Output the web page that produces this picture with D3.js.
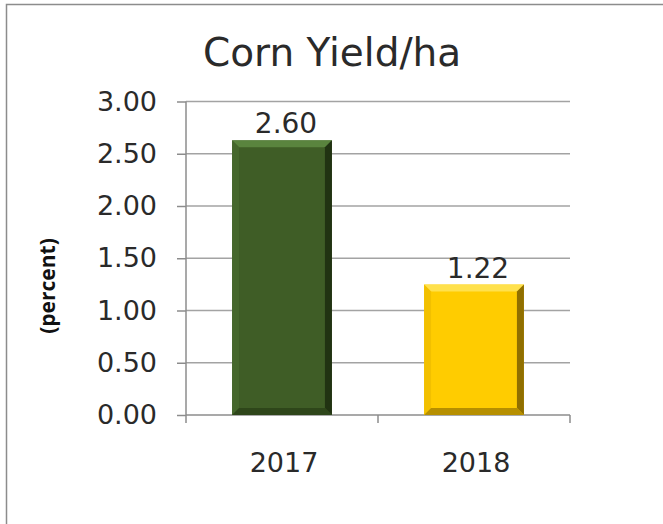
<!DOCTYPE html>
<html>
<head>
<meta charset="utf-8">
<title>Corn Yield/ha</title>
<style>
  body { margin: 0; background: #fff; }
</style>
</head>
<body>
<script src="https://d3js.org/d3.v7.min.js"></script>
<script>
// data
var years = ["2017", "2018"];
var yields = [2.60, 1.22];
var yTicks = [0, 0.5, 1, 1.5, 2, 2.5, 3];
var barColors = ["#3f5d26", "#ffcc00"];

var W = 663, H = 524;
var font = "'DejaVu Sans', sans-serif";
var ink = "#2a2a2a";
var svg = d3.select("body").append("svg")
    .attr("width", W).attr("height", H);

// outer frame (right/bottom edges fall outside the picture)
svg.append("rect")
    .attr("x", 6.5).attr("y", 4.5)
    .attr("width", W + 20).attr("height", H + 20)
    .attr("fill", "none").attr("stroke", "#8c8c8c").attr("stroke-width", 1.5);

var x = d3.scaleBand().domain(years).range([186, 570])
    .paddingInner(0.48).paddingOuter(0.24);
var y = d3.scaleLinear().domain([0, 3]).range([415, 101.5]);

// gridlines
svg.append("g").selectAll("line").data(yTicks.slice(1)).join("line")
    .attr("x1", 186).attr("x2", 570)
    .attr("y1", d => y(d)).attr("y2", d => y(d))
    .attr("stroke", "#a3a3a3").attr("stroke-width", 1.3);

// y axis
var yAxis = svg.append("g").attr("transform", "translate(186,0)")
    .call(d3.axisLeft(y).tickValues(yTicks).tickFormat(d3.format(".2f")).tickSize(9).tickPadding(20));
yAxis.selectAll("line, path").attr("stroke", "#8c8c8c").attr("stroke-width", 1.5);
yAxis.select("path").attr("d", "M0," + y(3) + "V" + y(0));
yAxis.selectAll("text").attr("font-size", 27).attr("font-family", font).attr("fill", ink);

// x axis
var xAxis = svg.append("g").attr("transform", "translate(0," + y(0) + ")");
xAxis.append("line").attr("x1", 186).attr("x2", 570)
    .attr("stroke", "#8c8c8c").attr("stroke-width", 1.5);
var edges = [186].concat(years.map(d => x(d) + x.bandwidth() / 2 + x.step() / 2));
xAxis.selectAll(".tk").data(edges).join("line").attr("class", "tk")
    .attr("x1", d => d).attr("x2", d => d).attr("y1", 0).attr("y2", 8)
    .attr("stroke", "#8c8c8c").attr("stroke-width", 1.5);
xAxis.selectAll("text").data(years).join("text")
    .attr("x", d => x(d) + x.bandwidth() / 2 + 2)
    .attr("y", 57)
    .attr("text-anchor", "middle").attr("font-size", 27)
    .attr("font-family", font).attr("fill", ink)
    .text(d => d);

// bevelled bars
var b = 7;
var shades = [
  {top: "#5f8b43", left: "#47692e", right: "#1c2c0f", bottom: "#2b4219"},
  {top: "#ffe45a", left: "#f0bd00", right: "#7d5e00", bottom: "#a98400"}
];
var bars = svg.append("g").selectAll("g").data(years).join("g");
bars.each(function(d, i) {
  var g = d3.select(this);
  var x0 = x(d), x1 = x(d) + x.bandwidth(), y0 = y(yields[i]) - 3, y1 = y(0);
  g.append("rect").attr("x", x0).attr("y", y0)
    .attr("width", x1 - x0).attr("height", y1 - y0).attr("fill", barColors[i]);
  var s = shades[i];
  var faces = [
    {c: s.top, p: [[x0, y0], [x1, y0], [x1 - b, y0 + b], [x0 + b, y0 + b]]},
    {c: s.left, p: [[x0, y0], [x0 + b, y0 + b], [x0 + b, y1 - b], [x0, y1]]},
    {c: s.right, p: [[x1, y0], [x1, y1], [x1 - b, y1 - b], [x1 - b, y0 + b]]},
    {c: s.bottom, p: [[x0, y1], [x1, y1], [x1 - b, y1 - b], [x0 + b, y1 - b]]}
  ];
  g.selectAll("path").data(faces).join("path")
    .attr("d", f => "M" + f.p.join("L") + "Z")
    .attr("fill", f => f.c).attr("opacity", 0.85);
});

// value labels
svg.append("g").selectAll("text").data(years).join("text")
    .attr("x", d => x(d) + x.bandwidth() / 2 + 4)
    .attr("y", (d, i) => y(yields[i]) - 10)
    .attr("text-anchor", "middle").attr("font-size", 28)
    .attr("font-family", font).attr("fill", ink)
    .text((d, i) => d3.format(".2f")(yields[i]));

// title
svg.append("text").attr("x", 203).attr("y", 66)
    .attr("text-anchor", "start").attr("font-size", 39)
    .attr("font-family", font).attr("fill", ink)
    .text("Corn Yield/ha");

// y axis title
svg.append("text")
    .attr("transform", "translate(55,286) rotate(-90)")
    .attr("text-anchor", "middle")
    .attr("font-family", "'Open Sans', sans-serif").attr("font-weight", "bold")
    .attr("font-size", 21).attr("fill", "#111")
    .text("(percent)");
</script>
</body>
</html>
